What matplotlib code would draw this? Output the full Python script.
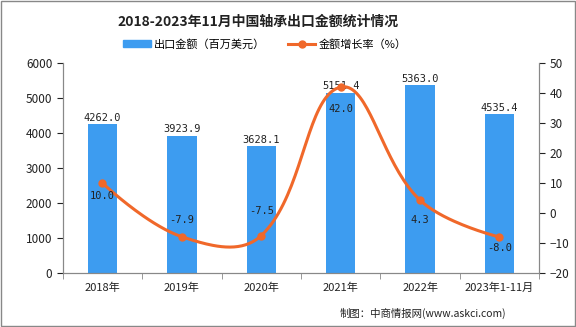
import numpy as np
import matplotlib
matplotlib.use("Agg")
from matplotlib import pyplot as plt
from matplotlib.lines import Line2D
from matplotlib.patches import Patch

plt.rcParams['font.family'] = ['Noto Sans CJK SC', 'DejaVu Sans']

categories = ['2018年', '2019年', '2020年', '2021年', '2022年', '2023年1-11月']
export_value = [4262.0, 3923.9, 3628.1, 5151.4, 5363.0, 4535.4]
growth_rate = [10.0, -7.9, -7.5, 42.0, 4.3, -8.0]

# vertical offset (points) of each growth label from its marker, + is down
rate_label_dy = [9, -12, -18, 16, 14, 8]

BAR_COLOR = '#3d9cf0'
LINE_COLOR = '#f0682a'
TEXT = '#222222'


def smooth_curve(ax, x, y, smooth=0.4, n=40):
    # bezier smoothing done in pixel space, weighted by segment lengths
    pts = ax.transData.transform(np.column_stack([x, y]))
    k = len(pts)
    xs = []
    for i in range(k - 1):
        p1, p2 = pts[i], pts[i + 1]
        p0 = pts[i - 1] if i > 0 else p1
        p3 = pts[i + 2] if i + 2 < k else p2
        # outgoing control of p1
        v = p2 - p0
        a, b = np.linalg.norm(p1 - p0), np.linalg.norm(p2 - p1)
        c1 = p1 + v * smooth * (b / (a + b)) if i > 0 else p1
        # incoming control of p2
        v = p3 - p1
        a, b = np.linalg.norm(p2 - p1), np.linalg.norm(p3 - p2)
        c2 = p2 - v * smooth * (a / (a + b)) if i + 2 < k else p2
        t = np.linspace(0, 1, n)[:, None]
        seg = ((1 - t) ** 3) * p1 + 3 * ((1 - t) ** 2) * t * c1 + 3 * (1 - t) * t ** 2 * c2 + t ** 3 * p2
        xs.append(seg)
    seg = np.vstack(xs)
    return ax.transData.inverted().transform(seg)


fig = plt.figure(figsize=(5.76, 3.27), dpi=100)
ax = fig.add_axes([0.109, 0.165, 0.827, 0.642])
ax2 = ax.twinx()

x = np.arange(len(categories))
ax.bar(x, export_value, width=0.37, color=BAR_COLOR, zorder=2)
for xi, v in zip(x, export_value):
    ax.text(xi, v + 40, f'{v:.1f}', ha='center', va='bottom', fontsize=7.5,
            color=TEXT, family='DejaVu Sans Mono')

ax.set_xlim(-0.5, len(categories) - 0.5)
ax.set_ylim(0, 6000)
ax.set_yticks(range(0, 6001, 1000))
ax.set_xticks(x)
ax.set_xticklabels(categories, fontsize=8, color=TEXT)
ax.set_xticks(np.arange(-0.5, len(categories), 1), minor=True)
ax.tick_params(axis='x', which='major', length=0, pad=7)
ax.tick_params(axis='x', which='minor', length=4, color='#888888')
ax.tick_params(axis='y', labelsize=8.5, colors=TEXT, length=4)

ax2.set_ylim(-20, 50)
ax2.set_yticks(range(-20, 51, 10))
ax2.tick_params(axis='y', labelsize=8.5, colors=TEXT, length=4)

curve = smooth_curve(ax2, x, growth_rate)
ax2.plot(curve[:, 0], curve[:, 1], color=LINE_COLOR, lw=2.2, zorder=3)
ax2.plot(x, growth_rate, 'o', color=LINE_COLOR, ms=5, zorder=4)
for xi, v, dy in zip(x, growth_rate, rate_label_dy):
    ax2.annotate(f'{v:.1f}', (xi, v), xytext=(0, -dy), textcoords='offset points',
                 ha='center', va='center', fontsize=7.5, color=TEXT,
                 family='DejaVu Sans Mono', zorder=5)

for a in (ax, ax2):
    a.spines['top'].set_visible(False)
    for side in ('left', 'right', 'bottom'):
        a.spines[side].set_color('#888888')

fig.text(0.448, 0.933, '2018-2023年11月中国轴承出口金额统计情况', ha='center',
         va='center', fontsize=10, fontweight='bold', color=TEXT)

handles = [Patch(color=BAR_COLOR),
           Line2D([], [], color=LINE_COLOR, lw=2.2, marker='o', ms=5)]
fig.legend(handles, ['出口金额（百万美元）', '金额增长率（%）'], loc='center',
           bbox_to_anchor=(0.46, 0.865), ncol=2, frameon=False, fontsize=8,
           handlelength=2.5, handleheight=0.5, columnspacing=2.0, handletextpad=0.3)

fig.text(0.878, 0.043, '制图：中商情报网(www.askci.com)', ha='right', va='center',
         fontsize=7.5, color=TEXT)

fig.patches.append(plt.Rectangle((0.002, 0.003), 0.996, 0.994, transform=fig.transFigure,
                                 fill=False, edgecolor='#888888', lw=1))

fig.savefig('out.png', dpi=100)
